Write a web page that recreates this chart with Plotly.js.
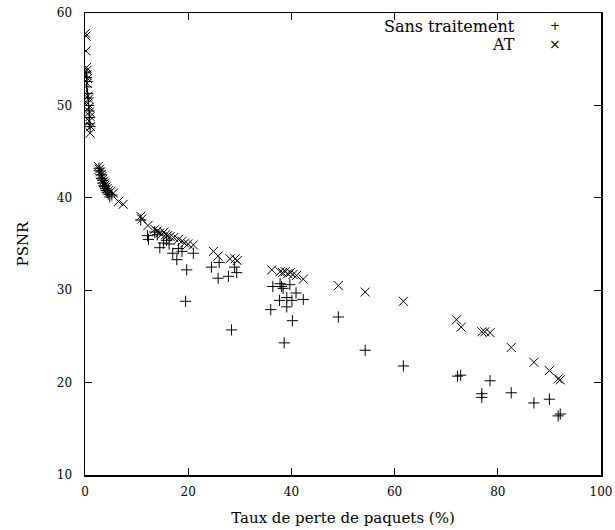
<!DOCTYPE html>
<html>
<head>
<meta charset="utf-8">
<script src="https://cdn.plot.ly/plotly-3.0.1.min.js"></script>
<style>html,body{margin:0;padding:0;background:#fff;}#chart{width:615px;height:530px;}</style>
</head>
<body>
<div id="chart"></div>
<script>
// Sans traitement (+)
const sansX = [0.2,0.3,0.4,0.3,0.5,0.6,0.7,0.8,0.9,0.8,1.0,
  2.7,2.9,3.1,3.2,3.4,3.5,3.7,3.8,4.0,4.1,4.3,4.5,4.8,5.2,
  10.8,12.1,12.3,13.5,14.0,14.5,15.2,15.8,16.3,17.0,17.8,18.1,18.8,19.7,19.5,21.0,
  24.5,25.8,26.0,27.8,29.0,29.4,28.4,
  36.0,36.4,37.7,37.8,38.1,38.4,39.1,39.1,39.7,40.1,40.2,40.9,42.3,38.6,
  49.1,54.3,61.7,72.2,72.8,76.9,76.9,78.5,82.6,87.0,90.0,91.7,92.1];
const sansY = [53.6,53.0,52.6,52.0,51.3,50.8,50.0,49.4,48.7,48.0,47.7,
  43.2,42.9,42.5,42.1,41.9,41.6,41.3,41.2,41.0,40.8,40.6,40.4,40.1,40.3,
  37.6,35.9,35.5,36.3,36.0,34.6,35.1,35.4,35.0,34.0,33.3,34.5,34.2,32.2,28.8,34.0,
  32.5,31.3,33.0,31.5,32.5,31.9,25.7,
  27.9,30.4,28.9,30.7,30.4,30.2,29.2,28.2,30.6,28.9,26.7,29.7,29.0,24.3,
  27.1,23.5,21.8,20.7,20.8,18.8,18.4,20.2,18.9,17.8,18.2,16.4,16.6];

// AT (x)
const atX = [0.1,0.2,0.2,0.3,0.4,0.3,0.5,0.4,0.6,0.7,0.5,0.8,0.9,1.0,0.8,1.1,1.0,
  2.6,2.8,3.0,3.1,3.3,3.4,3.6,3.8,3.9,4.1,4.3,4.6,5.0,5.5,6.5,7.4,
  10.8,11.0,12.2,13.5,14.0,14.5,15.0,15.3,15.6,16.0,16.5,17.2,18.1,18.8,19.3,20.0,21.0,
  24.9,25.8,28.1,29.1,29.5,
  36.2,37.8,38.3,38.8,39.3,39.8,40.3,41.0,42.3,
  49.1,54.3,61.7,72.0,72.9,76.9,77.5,78.5,82.6,87.0,90.0,91.7,92.1];
const atY = [57.8,57.5,55.9,54.1,53.8,53.3,52.9,52.4,51.0,50.7,50.2,49.8,49.3,48.8,48.3,47.7,47.0,
  43.4,43.1,42.8,42.5,42.3,42.0,41.8,41.6,41.4,41.2,41.0,40.8,40.7,40.5,39.6,39.3,
  38.0,37.7,37.0,36.6,36.4,36.2,36.1,36.3,36.0,35.9,35.8,35.7,35.5,35.3,35.1,35.0,34.9,
  34.2,33.7,33.4,33.4,33.2,
  32.2,32.0,31.9,32.0,31.8,31.9,31.7,31.6,31.2,
  30.5,29.8,28.8,26.8,26.0,25.5,25.5,25.4,23.8,22.2,21.3,20.4,20.3];

const seriesNames = ['Sans traitement', 'AT'];
const xTicks = [0,20,40,60,80,100];
const yTicks = [10,20,30,40,50,60];

const font = 'DejaVu Serif, Liberation Serif, serif';

const traces = [
  {x: sansX, y: sansY, mode: 'markers', type: 'scatter', name: seriesNames[0],
   marker: {symbol: 'cross-thin-open', size: 8, color: '#000', line: {color: '#000', width: 1}}},
  {x: atX, y: atY, mode: 'markers', type: 'scatter', name: seriesNames[1],
   marker: {symbol: 'x-thin-open', size: 9, color: '#000', line: {color: '#000', width: 1}}}
];

const axisCommon = {
  showgrid: false, zeroline: false, showline: true, linecolor: '#000', linewidth: 1.5,
  mirror: 'ticks', ticks: 'inside', ticklen: 7, tickwidth: 1, tickcolor: '#000',
  tickfont: {family: font, size: 12, color: '#000'}
};

const layout = {
  width: 615, height: 530,
  margin: {l: 85, r: 14, t: 13, b: 55},
  paper_bgcolor: '#fff', plot_bgcolor: '#fff',
  showlegend: false,
  font: {family: font, color: '#000'},
  xaxis: Object.assign({}, axisCommon, {range: [0, 100], tickvals: xTicks, ticklabelstandoff: 5,
    title: {text: 'Taux de perte de paquets (%)', font: {family: font, size: 15, color: '#000'}, standoff: 14}}),
  yaxis: Object.assign({}, axisCommon, {range: [10, 60], tickvals: yTicks, ticklabelstandoff: 9,
    title: {text: 'PSNR', font: {family: font, size: 15, color: '#000'}, standoff: 24}}),
  annotations: [
    {xref: 'paper', yref: 'paper', x: 0.837, y: 0.970, xanchor: 'right', yanchor: 'middle', showarrow: false,
     text: seriesNames[0], font: {family: font, size: 16, color: '#000'}},
    {xref: 'paper', yref: 'paper', x: 0.837, y: 0.931, xanchor: 'right', yanchor: 'middle', showarrow: false,
     text: seriesNames[1], font: {family: font, size: 16, color: '#000'}},
    {xref: 'paper', yref: 'paper', x: 0.911, y: 0.972, xanchor: 'center', yanchor: 'middle', showarrow: false,
     text: '+', font: {family: 'DejaVu Sans', size: 12, color: '#000'}},
    {xref: 'paper', yref: 'paper', x: 0.911, y: 0.933, xanchor: 'center', yanchor: 'middle', showarrow: false,
     text: '×', font: {family: 'DejaVu Sans', size: 14, color: '#000'}}
  ]
};

Plotly.newPlot('chart', traces, layout, {displayModeBar: false, staticPlot: true});
</script>
</body>
</html>
